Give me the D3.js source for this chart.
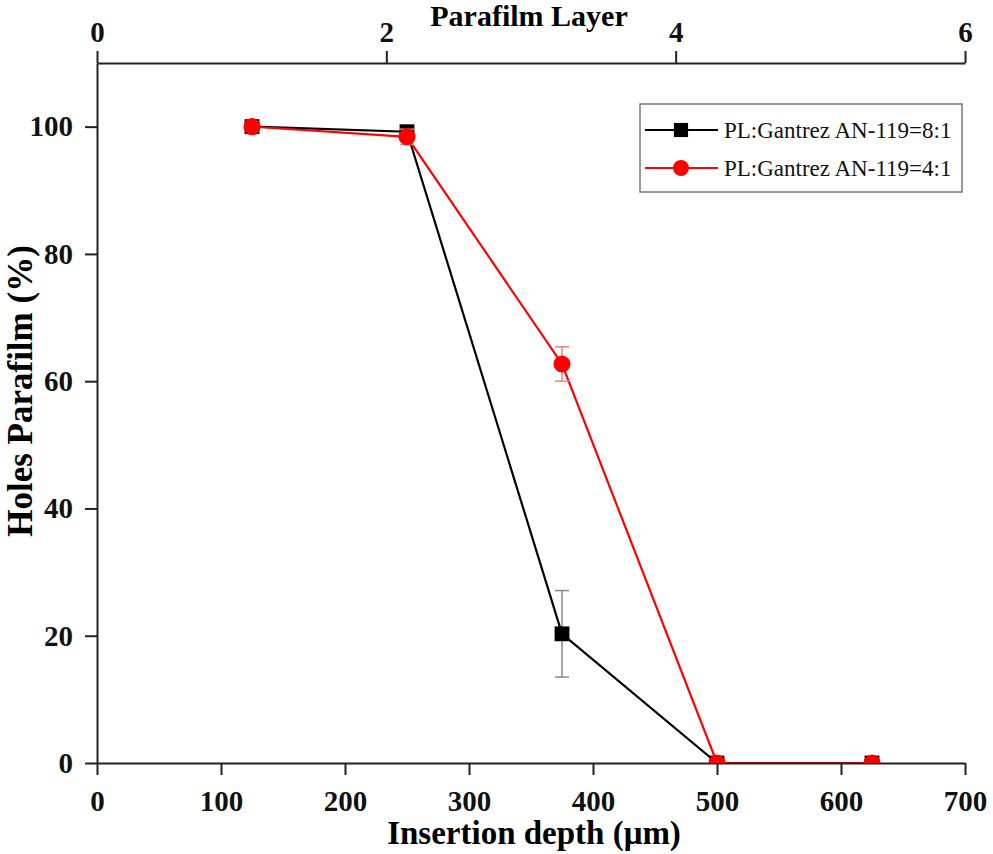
<!DOCTYPE html>
<html>
<head>
<meta charset="utf-8">
<script src="https://cdn.jsdelivr.net/npm/d3@7"></script>
<style>
  body { margin: 0; background: #fff; }
  text { font-family: "Liberation Serif", "Times New Roman", serif; }
</style>
</head>
<body>
<svg id="chart" width="993" height="854"></svg>
<script>
// insertion depth (µm)
let depths = [125, 250, 375, 500, 625];
// holes in parafilm (%)
let ratio81 = [100, 99.2, 20.3, 0, 0];
let ratio81Err = [0.6, 0.8, 6.8, 0, 0];
let ratio41 = [100, 98.4, 62.7, 0, 0];
let ratio41Err = [0.6, 1.2, 2.7, 0, 0];

let seriesNames = ["PL:Gantrez AN-119=8:1", "PL:Gantrez AN-119=4:1"];
let xTicks = [0, 100, 200, 300, 400, 500, 600, 700];
let yTicks = [0, 20, 40, 60, 80, 100];
let layerTicks = [0, 2, 4, 6];

let svg = d3.select("#chart");
let margin = {top: 63, right: 28, bottom: 91, left: 97};
let width = 993 - margin.left - margin.right;
let height = 854 - margin.top - margin.bottom;

let x = d3.scaleLinear().domain([0, 700]).range([0, width]);
let xTop = d3.scaleLinear().domain([0, 6]).range([0, width]);
let y = d3.scaleLinear().domain([0, 110]).range([height, 0]);

let g = svg.append("g").attr("transform", "translate(" + margin.left + "," + margin.top + ")");

// markers sitting on 0 are cut by the bottom axis
svg.append("defs").append("clipPath").attr("id", "plotClip")
    .append("rect").attr("x", -20).attr("y", -5).attr("width", width + 40).attr("height", height + 5);

let series = [
    {name: seriesNames[0], values: ratio81, err: ratio81Err, color: "#000", errColor: "#8a8a8a", shape: "square"},
    {name: seriesNames[1], values: ratio41, err: ratio41Err, color: "#ff0000", errColor: "#f08080", shape: "circle"}
];

let line = d3.line().x((d, i) => x(depths[i])).y(d => y(d));

// lines (below axes)
series.forEach(s => {
    g.append("path")
        .datum(s.values)
        .attr("fill", "none")
        .attr("stroke", s.color)
        .attr("stroke-width", 2.2)
        .attr("d", line);
});

// axes
function styleAxis(sel) {
    sel.selectAll("path, line").attr("stroke", "#222").attr("stroke-width", 2);
    sel.selectAll("text").attr("font-size", 29).attr("font-weight", "bold")
        .attr("fill", "#111").style("font-family", "Liberation Serif, serif");
}

g.append("g")
    .attr("transform", "translate(0," + height + ")")
    .call(d3.axisBottom(x).tickValues(xTicks).tickSize(12).tickSizeOuter(0).tickPadding(15))
    .call(styleAxis);

g.append("g")
    .call(d3.axisLeft(y).tickValues(yTicks).tickSize(12).tickSizeOuter(0).tickPadding(12))
    .call(styleAxis);

g.append("g")
    .call(d3.axisTop(xTop).tickValues(layerTicks).tickFormat(d3.format("d")).tickSize(12).tickSizeOuter(0).tickPadding(9))
    .call(styleAxis);

// error bars and markers
let marks = g.append("g").attr("clip-path", "url(#plotClip)");
series.forEach(s => {
    s.values.forEach((v, i) => {
        if (s.err[i] > 0) {
            let cx = x(depths[i]);
            let y1 = y(v + s.err[i]), y2 = y(v - s.err[i]);
            marks.append("line").attr("x1", cx).attr("x2", cx).attr("y1", y1).attr("y2", y2)
                .attr("stroke", s.errColor).attr("stroke-width", 1.5);
            [y1, y2].forEach(yy => {
                marks.append("line").attr("x1", cx - 7).attr("x2", cx + 7).attr("y1", yy).attr("y2", yy)
                    .attr("stroke", s.errColor).attr("stroke-width", 1.5);
            });
        }
    });
    marks.selectAll(null)
        .data(s.values)
        .enter()
        .append("path")
        .attr("transform", (d, i) => "translate(" + x(depths[i]) + "," + y(d) + ")")
        .attr("d", d3.symbol().type(s.shape === "square" ? d3.symbolSquare : d3.symbolCircle).size(s.shape === "square" ? 220 : 230))
        .attr("fill", s.color);
});

// axis titles
svg.append("text")
    .attr("x", 534).attr("y", 844)
    .attr("text-anchor", "middle")
    .attr("font-size", 33).attr("font-weight", "bold")
    .text("Insertion depth (μm)");

svg.append("text")
    .attr("x", 529).attr("y", 26)
    .attr("text-anchor", "middle")
    .attr("font-size", 30).attr("font-weight", "bold")
    .text("Parafilm Layer");

svg.append("text")
    .attr("transform", "translate(32,391) rotate(-90)")
    .attr("text-anchor", "middle")
    .attr("font-size", 35).attr("font-weight", "bold")
    .text("Holes Parafilm (%)");

// legend
let legend = svg.append("g").attr("transform", "translate(640,104)");
legend.append("rect")
    .attr("width", 322).attr("height", 88)
    .attr("fill", "#fff").attr("stroke", "#777").attr("stroke-width", 1.5);

series.forEach((s, i) => {
    let ly = 26 + i * 38;
    legend.append("line").attr("x1", 5).attr("x2", 78).attr("y1", ly).attr("y2", ly)
        .attr("stroke", s.color).attr("stroke-width", 2.2);
    legend.append("path")
        .attr("transform", "translate(41," + ly + ")")
        .attr("d", d3.symbol().type(s.shape === "square" ? d3.symbolSquare : d3.symbolCircle).size(200))
        .attr("fill", s.color);
    legend.append("text")
        .attr("x", 84).attr("y", ly + 8)
        .attr("font-size", 23)
        .attr("fill", "#111")
        .text(s.name);
});
</script>
</body>
</html>
